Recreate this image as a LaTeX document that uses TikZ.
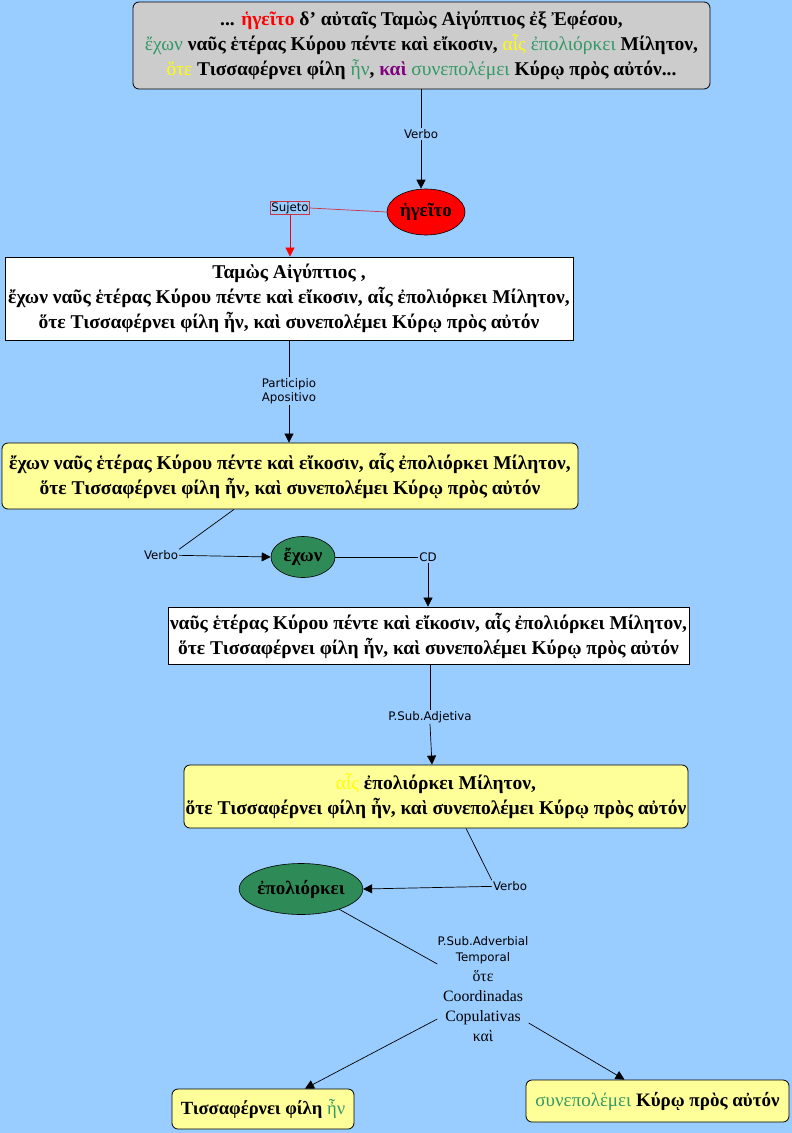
\documentclass[tikz,border=0pt]{standalone}
\usepackage{fontspec}
\setmainfont{Liberation Serif}
\newfontfamily\labfont{DejaVu Sans}
\usetikzlibrary{arrows.meta,shapes.geometric}
\definecolor{bgblue}{RGB}{153,204,255}
\definecolor{boxgray}{RGB}{204,204,204}
\definecolor{boxyellow}{RGB}{255,255,153}
\definecolor{elgreen}{RGB}{46,139,87}
\definecolor{txgreen}{RGB}{51,153,102}
\definecolor{txyellow}{RGB}{255,255,0}
\definecolor{txpurple}{RGB}{128,0,128}
\definecolor{sujred}{RGB}{204,51,68}
\newcommand{\gr}[1]{\textcolor{txgreen}{\mdseries #1}}
\newcommand{\ye}[1]{\textcolor{txyellow}{\mdseries #1}}
\newcommand{\lbf}{\labfont\fontsize{11.8}{14}\selectfont}
\begin{document}
\begin{tikzpicture}[x=1pt,y=-1pt,
  greek/.style={font=\fontsize{19.5}{25}\selectfont\bfseries, align=center},
  rbox/.style={greek, draw=black, line width=0.8pt, rounded corners=6pt, inner sep=0pt},
  wbox/.style={greek, draw=black, line width=0.8pt, fill=white, inner sep=0pt},
  ell/.style={ellipse, draw=black, line width=0.6pt, inner sep=0pt, font=\fontsize{19}{22}\selectfont\bfseries},
  lab/.style={font=\lbf, align=center, inner sep=1pt},
  conn/.style={line width=0.7pt, black},
  arr/.style={conn, -{Triangle[length=9pt,width=9pt]}},
]
\fill[bgblue] (0,0) rectangle (792,1133);
\useasboundingbox (0,0) rectangle (792,1133);

% top box
\node[rbox, fill=boxgray, minimum width=577, minimum height=87] (top) at (421.5,45.5)
 {... \textcolor{red}{ἡγεῖτο} δ' αὐταῖς Ταμὼς Αἰγύπτιος ἐξ Ἐφέσου,\\
  \gr{ἔχων} ναῦς ἑτέρας Κύρου πέντε καὶ εἴκοσιν, \ye{αἷς} \gr{ἐπολιόρκει} Μίλητον,\\
  \ye{ὅτε} Τισσαφέρνει φίλη \gr{ἦν}, \textcolor{txpurple}{καὶ} \gr{συνεπολέμει} Κύρῳ πρὸς αὐτόν...};

\node[lab] (verbo1) at (421,134) {Verbo};
\node[ell, fill=red, minimum width=78, minimum height=46] (heg) at (426,212) {ἡγεῖτο};
\draw[conn] (top.south -| verbo1) -- (verbo1);
\draw[arr] (verbo1) -- (verbo1 |- heg.north);

\node[lab, draw=sujred, line width=0.6pt, inner sep=1pt] (suj) at (290,208) {Sujeto};
\draw[line width=0.7pt, sujred] (heg.west) -- (suj.east);

\node[wbox, minimum width=568, minimum height=83] (w1) at (289,298.5)
 {Ταμὼς Αἰγύπτιος ,\\
  ἔχων ναῦς ἑτέρας Κύρου πέντε καὶ εἴκοσιν, αἷς ἐπολιόρκει Μίλητον,\\
  ὅτε Τισσαφέρνει φίλη ἦν, καὶ συνεπολέμει Κύρῳ πρὸς αὐτόν};
\draw[line width=0.7pt, red, -{Triangle[length=9pt,width=9pt]}] (suj.south) -- (suj.south |- w1.north);

\node[lab] (part) at (289,391) {Participio\\Apositivo};
\draw[conn] (w1.south -| part) -- (part);

\node[rbox, fill=boxyellow, minimum width=576, minimum height=66] (y2) at (290,476)
 {ἔχων ναῦς ἑτέρας Κύρου πέντε καὶ εἴκοσιν, αἷς ἐπολιόρκει Μίλητον,\\
  ὅτε Τισσαφέρνει φίλη ἦν, καὶ συνεπολέμει Κύρῳ πρὸς αὐτόν};
\draw[arr] (part) -- (part |- y2.north);

\node[lab] (verbo2) at (161,555) {Verbo};
\node[ell, fill=elgreen, minimum width=64, minimum height=41] (echon) at (303,557) {ἔχων};
\draw[conn] ([xshift=-56pt]y2.south) -- (verbo2.north east);
\draw[arr] (verbo2) -- (echon.west);

\node[lab] (cd) at (428,557) {CD};
\draw[conn] (echon.east) -- (cd.west);

\node[wbox, minimum width=521, minimum height=57] (w3) at (428.5,635.5)
 {ναῦς ἑτέρας Κύρου πέντε καὶ εἴκοσιν, αἷς ἐπολιόρκει Μίλητον,\\
  ὅτε Τισσαφέρνει φίλη ἦν, καὶ συνεπολέμει Κύρῳ πρὸς αὐτόν};
\draw[arr] (cd.south) -- (cd.south |- w3.north);

\node[lab] (adj) at (430,717) {P.Sub.Adjetiva};
\draw[conn] (w3.south -| adj) -- (adj);

\node[rbox, fill=boxyellow, minimum width=504, minimum height=63] (y4) at (436,796.5)
 {\ye{αἷς} ἐπολιόρκει Μίλητον,\\
  ὅτε Τισσαφέρνει φίλη ἦν, καὶ συνεπολέμει Κύρῳ πρὸς αὐτόν};
\draw[arr] (adj.south) -- ([xshift=-4pt]y4.north);

\node[lab] (verbo3) at (510,886) {Verbo};
\node[ell, fill=elgreen, minimum width=107, minimum height=51] (epol) at (301,889) {ἐπολιόρκει};
\draw[conn] ([xshift=30pt]y4.south) -- (verbo3.north west);
\draw[arr] (verbo3) -- (epol.east);

\node[align=center, inner sep=0pt, font=\fontsize{15.8}{20}\selectfont] (adv) at (483,989)
 {\lbf P.Sub.Adverbial\\[-4pt]
  \lbf Temporal\\
  ὅτε\\Coordinadas\\Copulativas\\καὶ};
\draw[conn] (epol.-28) -- ([yshift=25pt]adv.west);

\node[rbox, fill=boxyellow, minimum width=182, minimum height=40, font=\fontsize{18.6}{22}\selectfont\bfseries] (y5) at (263,1109)
 {Τισσαφέρνει φίλη \gr{ἦν}};
\node[rbox, fill=boxyellow, minimum width=263, minimum height=42, font=\fontsize{19}{22}\selectfont\bfseries] (y6) at (657.5,1101)
 {\gr{συνεπολέμει} Κύρῳ πρὸς αὐτόν};
\draw[arr] ([yshift=-30pt]adv.west) -- ([xshift=42pt]y5.north);
\draw[arr] ([yshift=-34pt]adv.east) -- ([xshift=-33pt]y6.north);
\end{tikzpicture}
\end{document}
